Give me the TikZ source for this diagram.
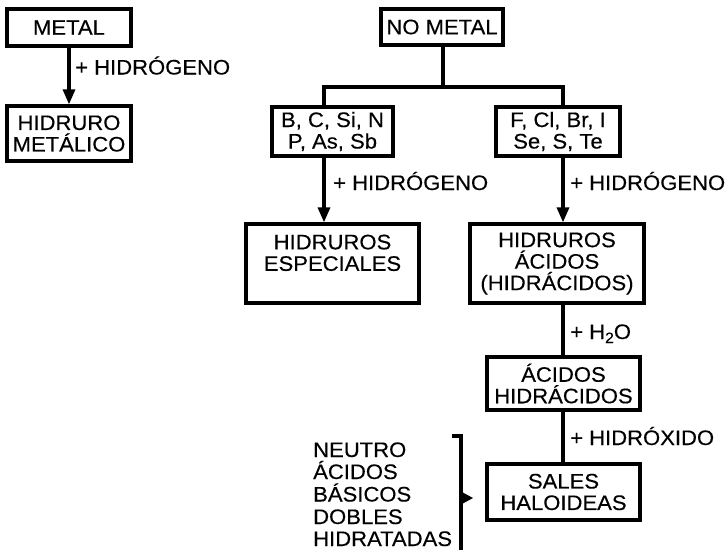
\documentclass[tikz,border=0pt]{standalone}
\usepackage{fontspec}
\setmainfont{Liberation Sans}[FakeStretch=1.05,FakeBold=0.3]
\usetikzlibrary{arrows.meta}
\begin{document}
\begin{tikzpicture}[x=1pt,y=-1pt,
  every node/.style={font=\fontsize{21}{21.5}\selectfont},
  box/.style={draw,line width=3.2pt,rectangle,align=center,inner sep=0pt},
  conn/.style={line width=3.2pt},
  arr/.style={line width=3.2pt,-{Triangle[width=12pt,length=15pt]}},
  lbl/.style={anchor=base west,inner sep=0pt},
]
\useasboundingbox (0,0) rectangle (726,550);
% boxes
\node[box,minimum width=124pt,minimum height=37pt] (metal) at (69,27.5) {METAL};
\node[box,minimum width=124pt,minimum height=55pt] (hidruro) at (69,133.5) {HIDRURO\\METÁLICO};
\node[box,minimum width=122pt,minimum height=36pt] (nometal) at (442,27) {NO METAL};
\node[box,minimum width=121pt,minimum height=49pt] (bc) at (332.5,131.5) {B, C, Si, N\\P, As, Sb};
\node[box,minimum width=124pt,minimum height=49pt] (fcl) at (558,131.5) {F, Cl, Br, I\\Se, S, Te};
\node[box,minimum width=173pt,minimum height=79pt] (hesp) at (332.5,263.5) {HIDRUROS\\ESPECIALES\\\mbox{}};
\node[box,minimum width=174pt,minimum height=79pt] (hacid) at (557,263.5) {HIDRUROS\\ÁCIDOS\\(HIDRÁCIDOS)};
\node[box,minimum width=153pt,minimum height=53pt] (acidh) at (563.5,383.5) {ÁCIDOS\\HIDRÁCIDOS};
\node[box,minimum width=153pt,minimum height=56pt] (sales) at (563.5,492) {SALES\\HALOIDEAS};
% coordinates
\coordinate (jl) at (324,87);
\coordinate (jr) at (563,87);
\coordinate (jm) at (443,87);
\coordinate (bt) at (452,436);
\coordinate (bb) at (461,550);
% connectors
\draw[arr] (metal.south) -- (hidruro.north);
\draw[conn] (nometal.south -| jm) -- (jm);
\draw[conn,line cap=rect] (jl) -- (jr);
\draw[conn] (jl) -- (jl |- bc.north);
\draw[conn] (jr) -- (jr |- fcl.north);
\draw[arr] (bc.south -| jl) -- (hesp.north -| jl);
\draw[arr] (fcl.south -| jr) -- (hacid.north -| jr);
\draw[conn] (hacid.south -| jr) -- (acidh.north -| jr);
\draw[conn] (acidh.south -| jr) -- (sales.north -| jr);
% bracket
\draw[conn] (bt) -- (bt -| bb) -- (bb);
\fill (461,491.5) -- (473,498) -- (461,504.5) -- cycle;
% labels
\node[lbl] (l1) at (75,74.5) {+ HIDRÓGENO};
\node[lbl] (l2) at (333,190) {+ HIDRÓGENO};
\node[lbl] (l3) at (570,190) {+ HIDRÓGENO};
\node[lbl] (l4) at (570,339) {+ H\raisebox{-4pt}{\fontsize{15}{15}\selectfont 2}O};
\node[lbl] (l5) at (570,445) {+ HIDRÓXIDO};
% list
\node[lbl] (s1) at (313,457) {NEUTRO};
\node[lbl] (s2) at (313,479) {ÁCIDOS};
\node[lbl] (s3) at (313,501.5) {BÁSICOS};
\node[lbl] (s4) at (313,524) {DOBLES};
\node[lbl] (s5) at (313,546) {HIDRATADAS};
\end{tikzpicture}
\end{document}
